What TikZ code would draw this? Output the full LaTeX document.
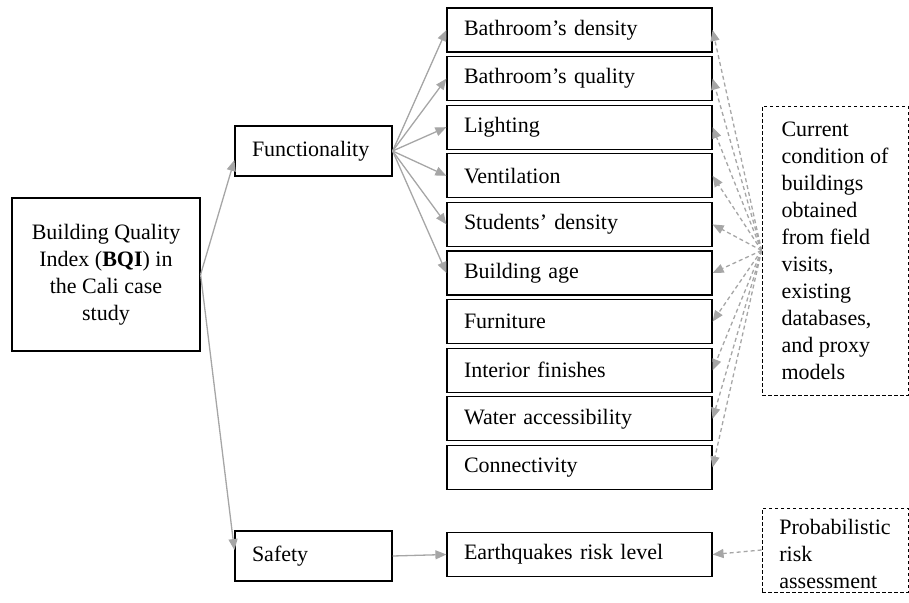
\documentclass[tikz,border=0pt]{standalone}
\usepackage{fontspec}
\setmainfont{Liberation Serif}
\usetikzlibrary{arrows.meta}
\definecolor{arrgray}{HTML}{A6A6A6}
\begin{document}
\begin{tikzpicture}[x=1pt,y=-1pt,
  every node/.style={font=\fontsize{22}{27}\selectfont, text=black},
  basebox/.style={draw=black, line width=1.2pt, inner ysep=0pt},
  itembox/.style={basebox, minimum height=44pt, inner xsep=17pt, text width=231pt, align=left},
  midbox/.style={basebox, minimum height=50pt, inner xsep=17pt, text width=123pt, align=left},
  srcbox/.style={draw=black, line width=0.9pt, dash pattern=on 3.5pt off 2.5pt, minimum width=146pt, inner ysep=0pt},
  arr/.style={draw=arrgray, line width=1.3pt, -{Triangle[length=11pt,width=9pt]}},
  darr/.style={arr, dash pattern=on 4pt off 3pt}
]
\useasboundingbox (0,0) rectangle (909,602);

\node[basebox, minimum width=188pt, minimum height=153pt, align=center] (bqi) at (106,274.5)
  {Building Quality\\Index (\textbf{BQI}) in\\the Cali case\\study};

\node[midbox] (func) at (313.5,151) {Functionality};
\node[midbox] (safe) at (313.5,556) {Safety};

\node[itembox] (b1) at (579.5,30) {Bathroom’s density};
\node[itembox] (b2) at (579.5,78.6) {Bathroom’s quality};
\node[itembox] (b3) at (579.5,127.2) {Lighting};
\node[itembox] (b4) at (579.5,175.8) {Ventilation};
\node[itembox] (b5) at (579.5,224.4) {Students’ density};
\node[itembox] (b6) at (579.5,273) {Building age};
\node[itembox] (b7) at (579.5,321.6) {Furniture};
\node[itembox] (b8) at (579.5,370.2) {Interior finishes};
\node[itembox] (b9) at (579.5,418.8) {Water accessibility};
\node[itembox] (b10) at (579.5,467.4) {Connectivity};

\node[itembox] (eq) at (579.5,554.5) {Earthquakes risk level};

\node[srcbox, minimum height=289pt, align=left] (cur) at (835,250.5)
  {Current\\condition of\\buildings\\obtained\\from field\\visits,\\existing\\databases,\\and proxy\\models};
\node[srcbox, minimum height=84pt] (prob) at (835,550)
  {\begin{tabular}{@{}l@{}}\rule{0pt}{25pt}Probabilistic\\risk\\assessment\\[-6pt]\end{tabular}};

% solid arrows
\draw[arr] (bqi.east) -- ([yshift=-9pt]func.west);
\draw[arr] (bqi.east) -- ([yshift=6pt]safe.west);
\foreach \i in {1,...,6}{
  \draw[arr] (func.east) -- (b\i.west);
}
\draw[arr] (safe.east) -- (eq.west);

% dashed arrows
\foreach \i in {1,...,10}{
  \draw[darr] (cur.west) -- (b\i.east);
}
\draw[darr] (prob.west) -- (eq.east);
\end{tikzpicture}
\end{document}
